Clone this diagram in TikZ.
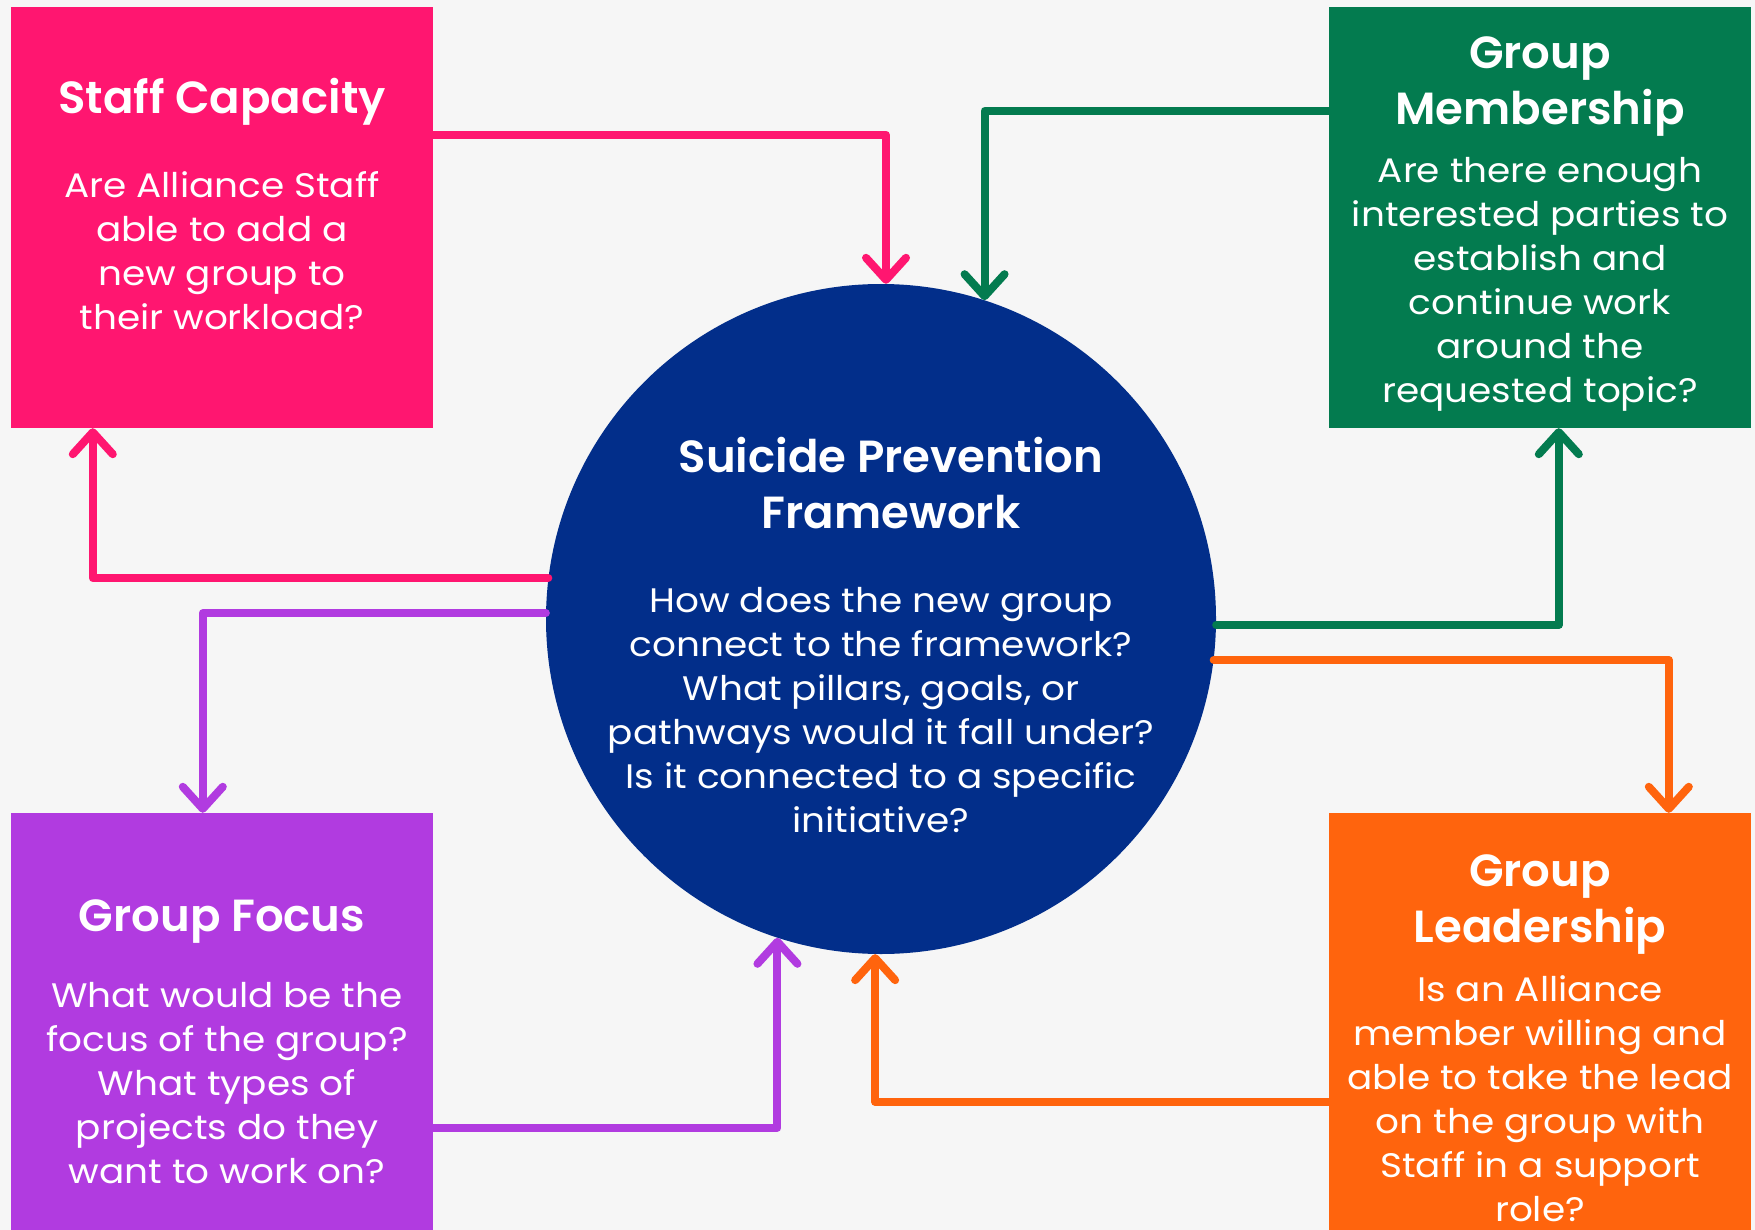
\documentclass[tikz,border=0pt]{standalone}
\usepackage{fontspec}
\setmainfont{Poppins}[BoldFont={Poppins SemiBold}]
\newfontfamily\askfont{Poppins}[FakeStretch=1.1]
\usetikzlibrary{arrows.meta}
\definecolor{capacityc}{HTML}{FF1670}
\definecolor{memberc}{HTML}{037B4F}
\definecolor{focusc}{HTML}{B13BE0}
\definecolor{leadc}{HTML}{FF640D}
\definecolor{spfc}{HTML}{022E8A}
\definecolor{bgc}{HTML}{F6F6F6}
\begin{document}
\begin{tikzpicture}[x=1pt,y=-1pt,
  box/.style={rectangle,inner sep=0pt,minimum width=422pt,fill=#1},
  boxhead/.style={text=white,align=center,font=\fontsize{45}{56}\selectfont\bfseries},
  boxtext/.style={text=white,align=center,font=\askfont\fontsize{34}{44}\selectfont},
  flow/.style={draw=#1,line width=8pt,line cap=round,line join=round,
    -{Straight Barb[round,length=22pt,width=40pt]}}]
\useasboundingbox (0,0) rectangle (1755,1230);
\fill [bgc] (0,0) rectangle (1755,1230);

\node [box=capacityc,minimum height=421pt] (staff) at (222,217.5) {};
\node [box=memberc,minimum height=421pt] (member) at (1540,217.5) {};
\node [box=focusc,minimum height=427pt] (focus) at (222,1026.5) {};
\node [box=leadc,minimum height=427pt] (lead) at (1540,1026.5) {};
\node [circle,fill=spfc,inner sep=0pt,minimum size=670pt] (spf) at (881,619) {};

\node [boxhead] (staffT) at (222,102) {Staff Capacity};
\node [boxtext] (staffQ) at (222,251) {Are Alliance Staff\\able to add a\\new group to\\their workload?};
\node [boxhead] (memberT) at (1540,87) {Group\\Membership};
\node [boxtext] (memberQ) at (1540,284) {Are there enough\\interested parties to\\establish and\\continue work\\around the\\requested topic?};
\node [boxhead] (focusT) at (222,922) {Group Focus};
\node [boxtext] (focusQ) at (227,1083) {What would be the\\focus of the group?\\What types of\\projects do they\\want to work on?};
\node [boxhead] (leadT) at (1540,905) {Group\\Leadership};
\node [boxtext] (leadQ) at (1540,1099) {Is an Alliance\\member willing and\\able to take the lead\\on the group with\\Staff in a support\\role?};
\node [boxhead] (spfT) at (891,483) {Suicide Prevention\\Framework};
\node [boxtext] (spfQ) at (881,710) {How does the new group\\connect to the framework?\\What pillars, goals, or\\pathways would it fall under?\\Is it connected to a specific\\initiative?};

\draw [flow=capacityc] ([yshift=-128pt]staff.north east) -| ([xshift=5pt]spf.north);
\draw [flow=capacityc] (spf.173) -| ([xshift=82pt]staff.south west);
\draw [flow=memberc] ([yshift=-104pt]member.north west) -| (spf.72);
\draw [flow=memberc] (spf.-1) -| ([xshift=230pt]member.south west);
\draw [flow=focusc] (spf.179) -| ([xshift=192pt]focus.north west);
\draw [flow=focusc] ([yshift=-315pt]focus.north east) -| (spf.252);
\draw [flow=leadc] (spf.-7.5) -| ([xshift=340pt]lead.north west);
\draw [flow=leadc] ([yshift=-289pt]lead.north west) -| (spf.269);
\end{tikzpicture}
\end{document}
